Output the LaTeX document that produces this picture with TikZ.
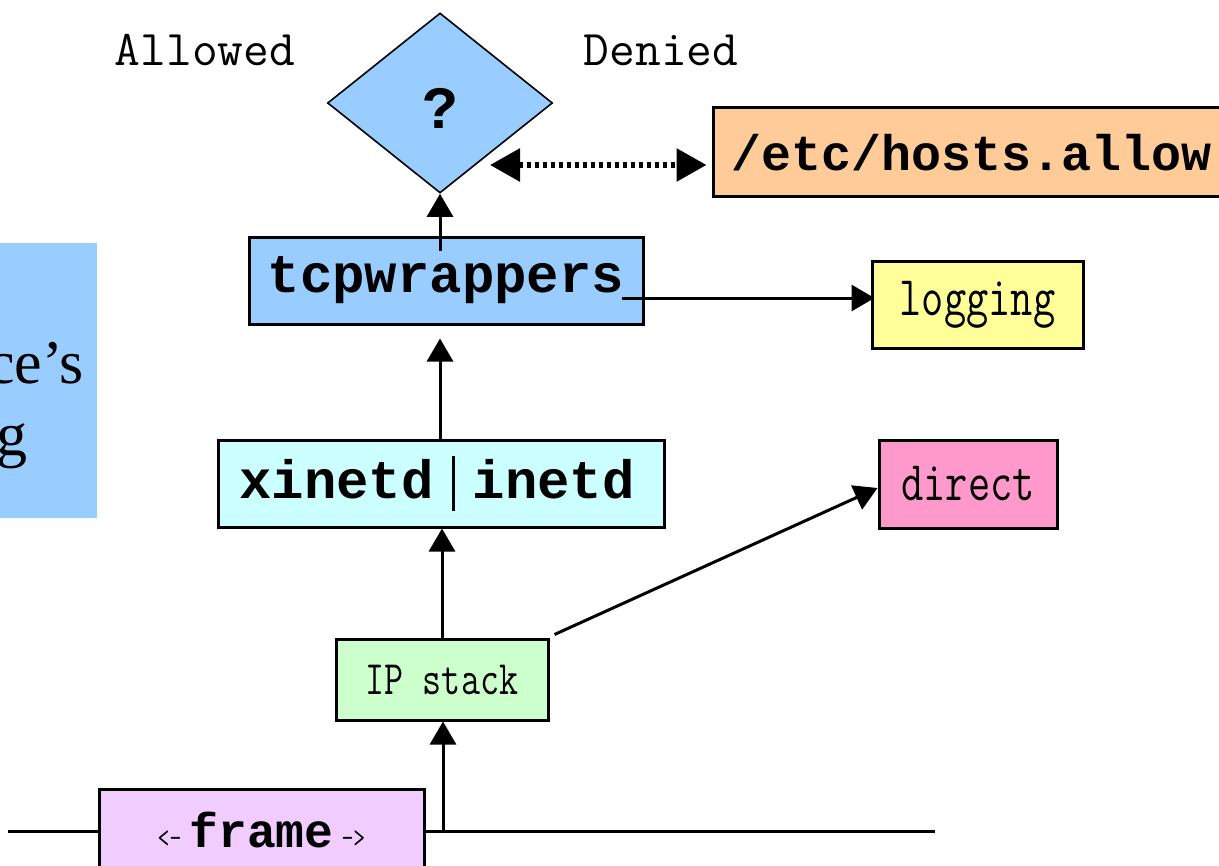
\documentclass[tikz,border=0pt]{standalone}
\usepackage{fontspec}
\usetikzlibrary{arrows.meta,shapes.geometric}
\setmainfont{Liberation Serif}
\newfontfamily\codefont{Liberation Mono}
\newfontfamily\typefont{Latin Modern Mono}
\newfontfamily\narrowfont[FakeStretch=0.77]{Latin Modern Mono}

\definecolor{skyblue}{HTML}{99CCFF}
\definecolor{peach}{HTML}{FFCC99}
\definecolor{paleyellow}{HTML}{FFFF99}
\definecolor{paleaqua}{HTML}{CCFFFF}
\definecolor{palegreen}{HTML}{CCFFCC}
\definecolor{rosepink}{HTML}{FF99CC}
\definecolor{lilac}{HTML}{F0CCFF}

\begin{document}
\begin{tikzpicture}[x=0.5pt,y=-0.5pt,
  box/.style={rectangle, draw=black, line width=1.5pt, inner sep=0pt},
  conn/.style={line width=1.5pt, -{Triangle[length=11.5pt,width=13pt]}},
  dotconn/.style={line width=3pt, dash pattern=on 2.2pt off 1.8pt,
    {Triangle[length=15pt,width=16pt]}-{Triangle[length=15pt,width=16pt]}},
  code/.style={font=\codefont\bfseries\fontsize{27}{30}\selectfont},
  plain/.style={font=\narrowfont\fontsize{28}{32}\selectfont},
  caption/.style={font=\typefont\fontsize{25}{28}\selectfont, inner sep=0pt},
  bigserif/.style={font=\fontsize{31}{36}\selectfont, inner sep=0pt}
]
\useasboundingbox (0,0) rectangle (1219,866);
\clip (0,0) rectangle (1219,866);

% side panel with large serif text
\fill[skyblue] (-10,243) rectangle (97,518);
\node[bigserif, anchor=base east] (sideA) at (84,383) {ce’s};
\node[bigserif, anchor=base east] (sideB) at (28,455) {g};

% decision diamond and its outcomes
\node[diamond, draw=black, line width=0.8pt, fill=skyblue, inner sep=0pt,
      minimum width=112.5pt, minimum height=90pt,
      font=\codefont\bfseries\fontsize{30}{32}\selectfont] (dec) at (440,103)
  {\raisebox{-12.8pt}[0pt][0pt]{?}};
\node[caption] (allowed) at (205,50) {Allowed};
\node[caption] (denied) at (661,50) {Denied};

% boxes
\node[box, fill=peach, minimum width=259pt, minimum height=44.5pt,
      font=\codefont\bfseries\fontsize{25}{28}\selectfont] (hosts) at (972,152.5) {/etc/hosts.allow};
\node[box, fill=skyblue, minimum width=197pt, minimum height=43.5pt, code] (tcp) at (446,280.5) {tcpwrappers};
\node[box, fill=paleyellow, minimum width=105.5pt, minimum height=43.5pt, plain] (log) at (977.5,304.5) {logging};
\node[box, fill=paleaqua, minimum width=223pt, minimum height=43.5pt, code] (xin) at (441,483.5)
  {\hspace{-4pt}xinetd\hspace{9pt}\rule[-6.5pt]{1.5pt}{27.5pt}\hspace{9pt}inetd};
\node[box, fill=rosepink, minimum width=89pt, minimum height=44pt, plain] (direct) at (968,484) {direct};
\node[box, fill=palegreen, minimum width=106pt, minimum height=40.5pt,
      font=\narrowfont\fontsize{24}{28}\selectfont] (ip) at (442,679.5) {IP stack};

% network wire and frame
\coordinate (wireL) at (8,831);
\coordinate (wireR) at (935,831);
\draw[line width=1.5pt] (wireL) -- (wireR);
\node[box, fill=lilac, minimum width=162.5pt, minimum height=41pt] (frame) at (261.5,830)
  {{\narrowfont\fontsize{15}{17}\selectfont <-}\hspace{4pt}{\codefont\bfseries\fontsize{24}{28}\selectfont frame}\hspace{4pt}{\narrowfont\fontsize{15}{17}\selectfont ->}};

% connectors
\coordinate (tap) at (443,831);
\draw[conn] (tap) -- (tap |- ip.south);
\draw[conn] (ip.north) -- (ip.north |- xin.south);
\coordinate (xinup) at ([xshift=-0.5pt]xin.north);
\draw[conn] (xinup) -- ([yshift=-6.5pt]xinup |- tcp.south);
\coordinate (tcpin) at ([yshift=-7.5pt]tcp.north -| dec.south);
\draw[conn] (tcpin) -- (dec.south);
\coordinate (tcpout) at (622,298);
\draw[conn] (tcpout) -- ([xshift=2pt]tcpout -| log.west);
\draw[conn] ([shift={(2.5pt,1.5pt)}]ip.north east) -- ([yshift=-2pt]direct.west);
\coordinate (dl) at (490,165);
\draw[dotconn] (dl) -- ([xshift=-2.5pt]dl -| hosts.west);
\end{tikzpicture}
\end{document}
